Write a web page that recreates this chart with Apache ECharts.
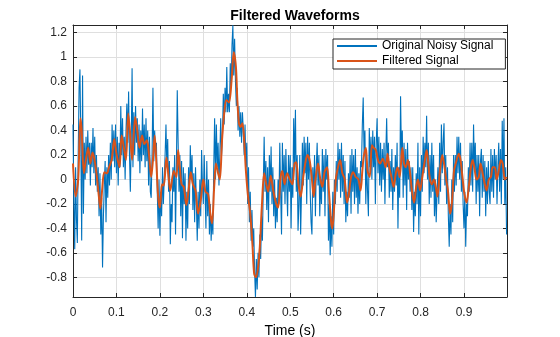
<!DOCTYPE html>
<html>
<head>
<meta charset="utf-8">
<script src="https://cdn.jsdelivr.net/npm/echarts@6/dist/echarts.min.js"></script>
<style>
  html, body { margin: 0; padding: 0; background: #fff; }
  #chart { width: 560px; height: 337px; }
</style>
</head>
<body>
<div id="chart"></div>
<script>
// Sample spacing of the raw recording (s)
const timeStep = 0.002;

// Raw noisy recording, one value per timeStep starting at t = 0 (10 samples per row)
const noisySignal = [
  0.45, -0.2, -0.57, 0.1, -0.33, -0.52, 0.2, 0.75, 0.9, 0.3,
  -0.5, 0.85, -0.28, 0.3, 0.0, 0.35, 0.05, 0.4, 0.12, 0.3,
  -0.05, 0.3, 0.1, 0.42, 0.05, 0.35, -0.05, 0.2, -0.1, 0.1,
  -0.3, 0.05, -0.45, -0.15, -0.72, -0.3, -0.05, 0.15, -0.35, 0.1,
  -0.15, 0.2, -0.05, 0.3, 0.0, 0.45, 0.15, 0.4, 0.1, 0.45,
  0.05, 0.35, -0.05, 0.3, 0.1, 0.6, 0.2, 0.5, 0.1, 0.35,
  0.0, 0.4, 0.62, 0.3, 0.72, 0.2, -0.1, 0.3, 0.91, 0.1,
  0.55, 0.2, 0.6, 0.3, 0.5, 0.15, 0.45, 0.05, 0.4, 0.15,
  0.58, 0.2, 0.45, 0.1, 0.5, 0.15, 0.4, -0.05, 0.35, -0.1,
  -0.15, 0.2, 0.75, 0.15, 0.4, 0.2, 0.3, -0.1, -0.4, 0.0,
  -0.46, -0.1, -0.3, 0.1, -0.2, 0.0, 0.2, 0.45, 0.1, 0.33,
  -0.1, 0.15, -0.53, -0.2, -0.35, 0.1, -0.1, 0.2, -0.45, 0.1,
  0.73, 0.3, -0.1, 0.2, -0.3, 0.15, -0.48, 0.1, -0.2, 0.05,
  -0.5, -0.1, -0.4, 0.1, -0.2, 0.28, 0.0, 0.2, -0.25, 0.05,
  -0.35, 0.1, -0.2, -0.5, -0.1, -0.4, 0.0, -0.3, 0.24, -0.05,
  -0.2, 0.2, -0.1, -0.4, 0.15, -0.3, 0.0, -0.45, -0.2, -0.5,
  -0.3, -0.45, 0.1, 0.5, 0.0, 0.45, 0.1, 0.3, -0.05, 0.2,
  0.5, 0.2, 0.35, 0.7, 0.45, 0.75, 0.55, 0.92, 0.55, 0.7,
  0.55, 0.95, 0.75, 1.1, 1.26, 0.85, 1.15, 0.8, 0.6, 0.75,
  0.4, 0.6, 0.35, 0.55, 0.3, 0.55, 0.4, 0.2, 0.45, 0.1,
  0.3, -0.2, 0.1, -0.35, -0.1, -0.5, -0.25, -0.55, -0.4, -0.75,
  -0.96, -0.65, -0.9, -0.6, -0.8, -0.45, -0.65, -0.3, -0.5, -0.05,
  0.35, -0.1, 0.15, -0.25, 0.1, -0.35, 0.2, -0.1, 0.27, -0.2,
  0.1, -0.3, 0.0, -0.4, -0.15, -0.35, 0.0, -0.2, 0.3, -0.1,
  -0.45, 0.3, -0.1, 0.2, -0.2, 0.25, -0.05, -0.3, 0.2, -0.1,
  0.2, -0.4, 0.1, -0.15, 0.5, 0.1, 0.57, -0.1, 0.2, -0.42,
  -0.2, 0.2, -0.45, -0.1, 0.3, -0.05, 0.35, 0.05, 0.3, -0.2,
  0.35, 0.0, 0.3, -0.1, -0.35, -0.45, 0.1, -0.15, 0.2, -0.3,
  0.1, 0.3, -0.05, 0.2, -0.3, 0.0, -0.2, 0.25, -0.1, 0.2,
  -0.3, 0.25, 0.0, 0.2, -0.5, -0.2, -0.62, -0.3, -0.55, -0.1,
  -0.45, 0.0, -0.2, 0.15, -0.1, 0.3, 0.0, 0.25, -0.15, 0.3,
  -0.1, 0.2, -0.2, 0.15, -0.35, -0.1, -0.3, 0.05, -0.15, 0.2,
  -0.28, 0.25, -0.1, 0.2, -0.2, 0.25, -0.15, 0.1, -0.28, 0.05,
  -0.2, 0.15, 0.1, 0.45, 0.67, 0.2, 0.4, -0.2, 0.15, -0.1,
  -0.3, 0.42, 0.1, 0.35, 0.0, 0.4, 0.1, 0.35, -0.2, 0.3,
  0.5, 0.05, 0.35, -0.05, 0.3, -0.1, 0.25, 0.0, 0.3, -0.2,
  0.2, 0.5, 0.1, 0.3, -0.15, 0.15, -0.1, 0.25, -0.25, 0.1,
  -0.1, 0.2, -0.05, 0.3, -0.4, 0.1, -0.15, 0.68, 0.2, 0.4,
  -0.15, 0.3, -0.05, 0.25, -0.25, 0.3, 0.0, 0.15, -0.1, 0.1,
  -0.25, 0.1, -0.43, -0.1, -0.3, 0.05, -0.2, 0.3, -0.45, 0.1,
  -0.3, 0.2, -0.1, 0.35, 0.05, 0.3, 0.1, 0.52, 0.0, 0.3,
  -0.2, 0.2, -0.15, 0.3, -0.1, 0.2, -0.3, 0.0, -0.35, -0.1,
  0.1, -0.2, 0.3, -0.1, 0.45, 0.05, 0.3, 0.46, -0.05, 0.2,
  -0.2, 0.1, -0.3, -0.55, -0.2, -0.45, 0.0, -0.35, 0.2, -0.1,
  0.2, -0.05, 0.35, 0.05, 0.35, 0.0, 0.3, -0.1, 0.15, -0.2,
  -0.4, -0.1, -0.55, -0.2, -0.3, 0.1, -0.1, 0.3, -0.05, 0.3,
  -0.1, 0.45, 0.1, 0.3, -0.2, 0.2, -0.1, 0.2, -0.3, 0.15,
  0.25, -0.15, 0.2, -0.1, 0.15, -0.3, 0.1, -0.2, 0.15, -0.1,
  -0.2, 0.25, -0.1, 0.2, -0.15, 0.25, 0.0, 0.2, -0.2, 0.1,
  0.3, -0.1, 0.25, -0.2, 0.48, 0.0, 0.5, -0.2, 0.1, -0.45
];

// Low-pass filtered output: sample times (s) and amplitudes
const filteredTime = [
  0.000, 0.006, 0.012, 0.017, 0.020, 0.025, 0.030, 0.035, 0.040, 0.045,
  0.050, 0.055, 0.059, 0.063, 0.067, 0.072, 0.078, 0.083, 0.089, 0.095,
  0.100, 0.107, 0.112, 0.118, 0.122, 0.127, 0.131, 0.136, 0.143, 0.148,
  0.153, 0.159, 0.164, 0.170, 0.175, 0.180, 0.184, 0.188, 0.192, 0.196,
  0.200, 0.205, 0.209, 0.215, 0.220, 0.224, 0.232, 0.238, 0.242, 0.246,
  0.250, 0.255, 0.261, 0.266, 0.271, 0.276, 0.282, 0.288, 0.294, 0.300,
  0.305, 0.311, 0.316, 0.320, 0.325, 0.329, 0.334, 0.338, 0.343, 0.348,
  0.353, 0.359, 0.365, 0.370, 0.375, 0.378, 0.382, 0.386, 0.390, 0.394,
  0.398, 0.403, 0.408, 0.413, 0.417, 0.421, 0.426, 0.430, 0.435, 0.440,
  0.445, 0.449, 0.455, 0.461, 0.467, 0.472, 0.478, 0.482, 0.487, 0.493,
  0.499, 0.505, 0.510, 0.514, 0.519, 0.524, 0.530, 0.536, 0.540, 0.545,
  0.550, 0.554, 0.558, 0.564, 0.569, 0.574, 0.579, 0.585, 0.589, 0.594,
  0.597, 0.601, 0.605, 0.610, 0.615, 0.620, 0.625, 0.631, 0.635, 0.640,
  0.645, 0.651, 0.657, 0.662, 0.666, 0.669, 0.674, 0.678, 0.683, 0.688,
  0.692, 0.697, 0.702, 0.707, 0.713, 0.720, 0.724, 0.728, 0.733, 0.738,
  0.743, 0.747, 0.752, 0.758, 0.762, 0.766, 0.771, 0.776, 0.780, 0.785,
  0.790, 0.794, 0.799, 0.804, 0.810, 0.814, 0.817, 0.821, 0.826, 0.831,
  0.835, 0.839, 0.844, 0.850, 0.854, 0.859, 0.863, 0.868, 0.872, 0.877,
  0.881, 0.888, 0.892, 0.897, 0.901, 0.906, 0.911, 0.916, 0.920, 0.925,
  0.929, 0.934, 0.938, 0.943, 0.948, 0.952, 0.957, 0.962, 0.966, 0.971,
  0.975, 0.980, 0.985, 0.989, 0.994, 0.998
];
const filteredSignal = [
  0.13, -0.14, 0.0, 0.5, 0.4, 0.05, 0.17, 0.26, 0.13, 0.22,
  0.15, 0.02, -0.12, -0.24, -0.09, 0.06, 0.05, 0.1, 0.16, 0.33,
  0.21, 0.1, 0.36, 0.24, 0.16, 0.54, 0.4, 0.16, 0.51, 0.4,
  0.26, 0.36, 0.29, 0.32, 0.2, 0.02, 0.16, 0.36, 0.13, -0.14,
  -0.23, -0.04, -0.05, 0.18, 0.02, -0.09, 0.07, 0.02, 0.24, 0.09,
  -0.04, -0.06, -0.21, -0.09, 0.06, -0.04, -0.09, -0.28, -0.17, 0.0,
  -0.1, -0.12, -0.28, -0.36, -0.06, 0.13, 0.05, 0.0, 0.32, 0.54,
  0.65, 0.63, 0.81, 1.04, 0.92, 0.67, 0.46, 0.43, 0.46, 0.32,
  0.07, -0.14, -0.28, -0.53, -0.77, -0.8, -0.72, -0.55, -0.2, 0.05,
  -0.04, -0.1, 0.03, -0.09, -0.19, -0.23, 0.02, 0.07, -0.04, 0.05,
  0.0, -0.04, 0.13, 0.14, -0.04, -0.14, 0.02, 0.16, 0.2, 0.15,
  0.0, -0.14, 0.0, 0.13, 0.01, -0.06, 0.06, 0.1, -0.09, -0.34,
  -0.4, -0.23, 0.0, 0.1, 0.16, 0.05, 0.01, -0.19, -0.12, 0.02,
  0.06, 0.02, 0.0, -0.09, 0.07, 0.18, 0.26, 0.07, 0.02, 0.28,
  0.26, 0.24, 0.16, 0.13, 0.17, 0.1, 0.21, 0.1, 0.02, -0.06,
  0.05, 0.1, 0.02, 0.26, 0.13, 0.1, 0.16, 0.05, -0.09, -0.19,
  -0.06, 0.0, -0.09, 0.02, 0.16, 0.24, 0.16, 0.02, -0.04, 0.0,
  -0.06, -0.14, 0.05, 0.2, 0.13, 0.0, -0.09, -0.28, -0.2, 0.07,
  0.13, 0.21, 0.16, 0.0, -0.12, -0.19, -0.06, 0.1, 0.16, 0.07,
  0.0, 0.02, 0.13, 0.05, -0.04, -0.09, 0.0, 0.02, 0.1, 0.1,
  0.0, 0.07, 0.16, 0.13, 0.0, 0.02
];

// Axis ticks
const xTicks = [0, 0.1, 0.2, 0.3, 0.4, 0.5, 0.6, 0.7, 0.8, 0.9];
const yTicks = [-0.8, -0.6, -0.4, -0.2, 0, 0.2, 0.4, 0.6, 0.8, 1, 1.2];

const X_MIN = 0, X_MAX = 0.999;
const Y_MIN = -0.961, Y_MAX = 1.263;

const BLUE = '#0072BD';
const ORANGE = '#D95319';
const INK = '#262626';
const FONT = '"Liberation Sans", Arial, Helvetica, sans-serif';

const noisyData = noisySignal.map((v, i) => [Math.round(i * timeStep * 1000) / 1000, v]);
const filteredData = filteredTime.map((t, i) => [t, filteredSignal[i]]);

const fmt = v => String(Math.round(v * 10) / 10);

function xAxisDef(pos, primary) {
  return {
    type: 'value', position: pos, min: X_MIN, max: X_MAX,
    axisLine: { show: true, onZero: false, lineStyle: { color: INK, width: 1 } },
    axisTick: { show: true, inside: true, length: 4, customValues: xTicks, lineStyle: { color: INK } },
    axisLabel: primary ? {
      show: true, customValues: xTicks, formatter: fmt, margin: 10,
      color: INK, fontSize: 12, fontFamily: FONT
    } : { show: false },
    splitLine: primary ? { show: true, lineStyle: { color: '#dfdfdf', width: 1 } } : { show: false },
    name: primary ? 'Time (s)' : '',
    nameLocation: 'middle', nameGap: 26,
    nameTextStyle: { color: '#000', fontSize: 14, fontFamily: FONT }
  };
}

function yAxisDef(pos, primary) {
  return {
    type: 'value', position: pos, min: Y_MIN, max: Y_MAX,
    axisLine: { show: true, onZero: false, lineStyle: { color: INK, width: 1 } },
    axisTick: { show: true, inside: true, length: 4, customValues: yTicks, lineStyle: { color: INK } },
    axisLabel: primary ? {
      show: true, customValues: yTicks, formatter: fmt, margin: 6,
      color: INK, fontSize: 12, fontFamily: FONT
    } : { show: false },
    splitLine: primary ? { show: true, lineStyle: { color: '#dfdfdf', width: 1 } } : { show: false }
  };
}

const chart = echarts.init(document.getElementById('chart'), null, { renderer: 'canvas' });
chart.setOption({
  animation: false,
  backgroundColor: '#fff',
  title: {
    text: 'Filtered Waveforms',
    left: 290, top: 4, textAlign: 'center',
    textStyle: { color: '#000', fontSize: 14, fontWeight: 'bold', fontFamily: FONT }
  },
  grid: { left: 73, right: 53, top: 25, bottom: 40, containLabel: false, outerBoundsMode: 'none' },
  xAxis: [xAxisDef('bottom', true), xAxisDef('top', false)],
  yAxis: [yAxisDef('left', true), yAxisDef('right', false)],
  legend: {
    orient: 'vertical', left: 333, top: 39,
    backgroundColor: '#fff', borderColor: INK, borderWidth: 1, borderRadius: 0,
    padding: [1, 12, 2, 4], itemGap: 3, itemWidth: 40, itemHeight: 2,
    icon: 'rect',
    textStyle: { color: '#000', fontSize: 12, fontFamily: FONT, lineHeight: 12 },
    data: [
      { name: 'Original Noisy Signal', itemStyle: { color: BLUE } },
      { name: 'Filtered Signal', itemStyle: { color: ORANGE } }
    ]
  },
  series: [
    {
      name: 'Original Noisy Signal', type: 'line', data: noisyData,
      showSymbol: false, symbol: 'none', clip: true,
      lineStyle: { color: BLUE, width: 1.1 }, itemStyle: { color: BLUE },
      z: 2
    },
    {
      name: 'Filtered Signal', type: 'line', data: filteredData,
      showSymbol: false, symbol: 'none', clip: true, smooth: 0.3,
      lineStyle: { color: ORANGE, width: 2 }, itemStyle: { color: ORANGE },
      z: 3
    }
  ]
});
</script>
</body>
</html>
